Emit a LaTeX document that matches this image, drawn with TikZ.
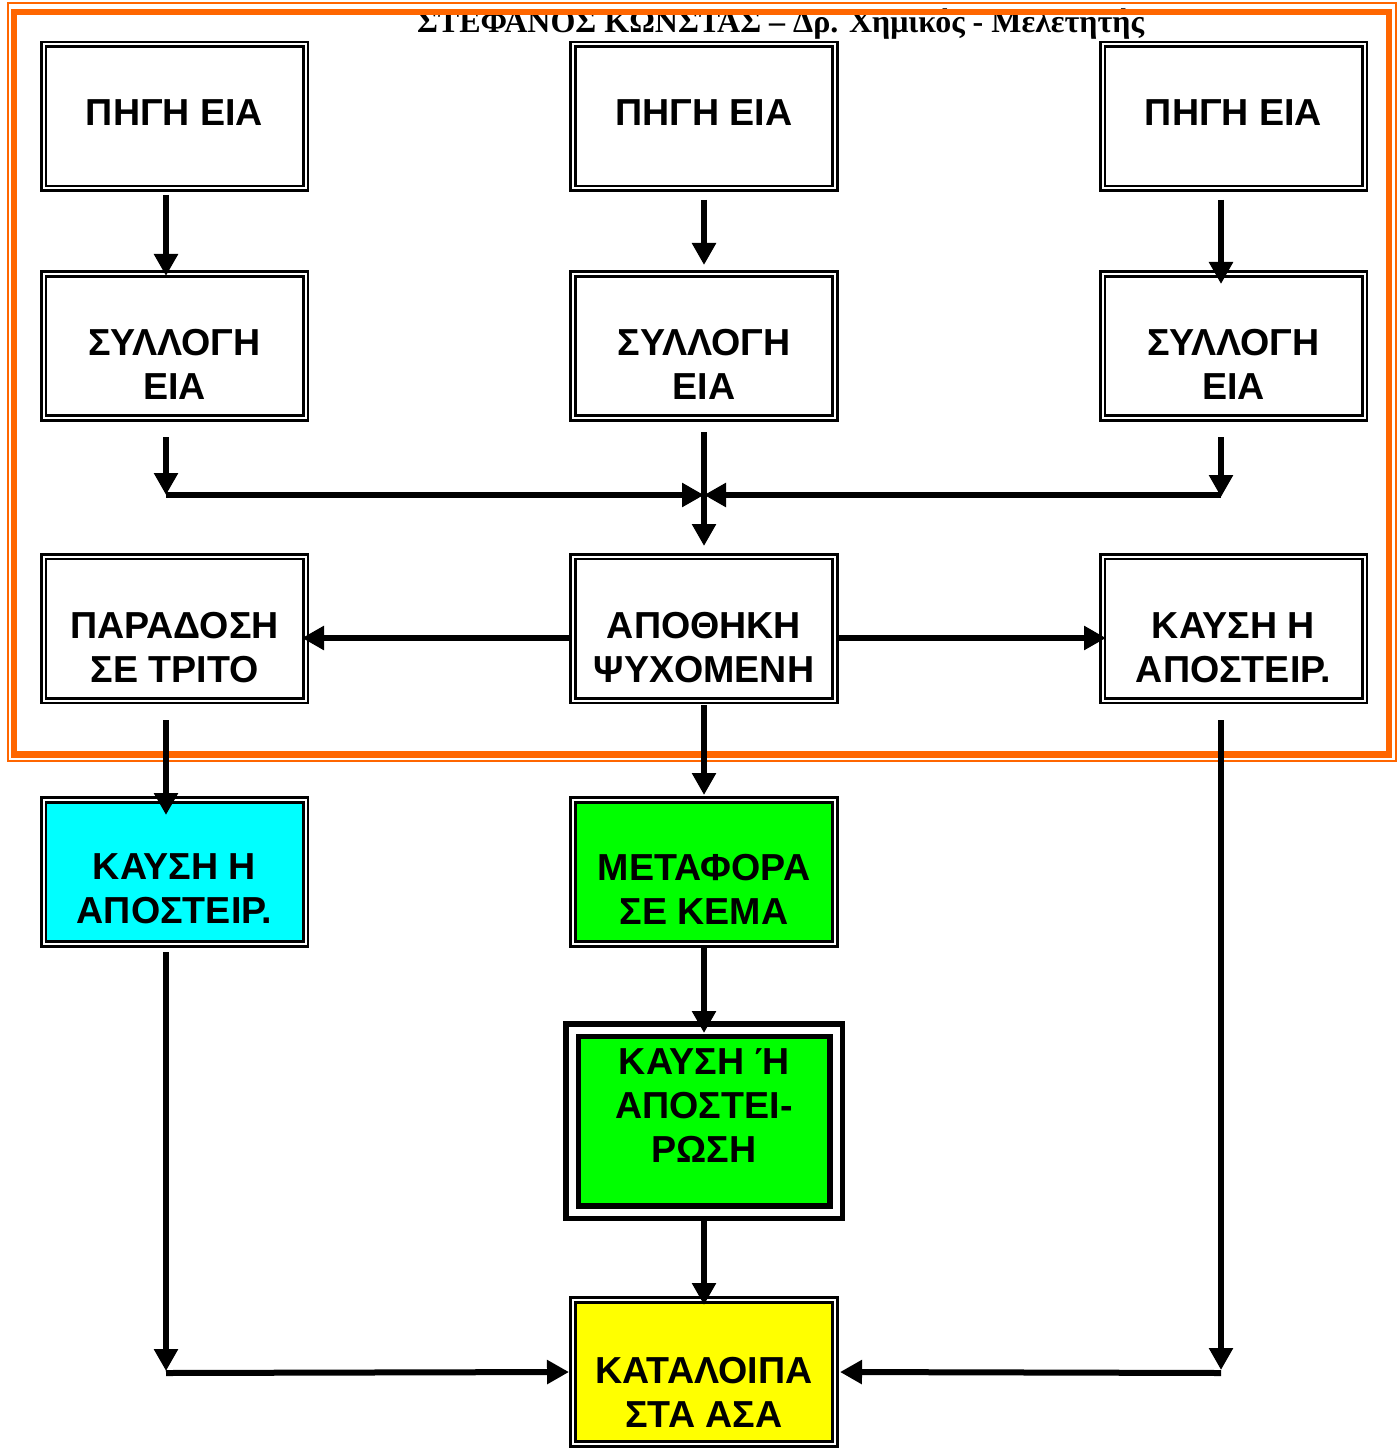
\documentclass[tikz,border=0pt]{standalone}
\usepackage{fontspec}
\setmainfont{Liberation Serif}
\newfontfamily\boxfont{Liberation Sans}
\usetikzlibrary{arrows.meta,calc}
\definecolor{orng}{RGB}{255,102,0}
\definecolor{cyanfill}{RGB}{0,255,255}
\definecolor{greenfill}{RGB}{0,255,0}
\definecolor{yellowfill}{RGB}{255,255,0}
\begin{document}
\begin{tikzpicture}[x=0.5pt,y=-0.5pt,
  box/.style={draw=black, double=white, line width=1.3pt, double distance=1pt,
    minimum width=131pt, minimum height=72pt, inner sep=0pt, outer sep=0pt},
  thickbox/.style={draw=black, double=white, line width=2.75pt, double distance=3.5pt,
    minimum width=132pt, minimum height=91pt, inner sep=0pt, outer sep=0pt, fill=greenfill},
  lbl/.style={font=\boxfont\bfseries\fontsize{18.8}{22}\selectfont, align=center, inner sep=0pt},
  arr/.style={line width=3pt, -{Triangle[width=11.5pt,length=11pt]}},
  ln/.style={line width=3pt}]
\useasboundingbox (0,0) rectangle (1398,1449);

% header
\node[font=\bfseries\fontsize{16}{19}\selectfont, anchor=base, inner sep=0pt] (hdr) at (780.5,33)
  {ΣΤΕΦΑΝΟΣ ΚΩΝΣΤΑΣ – Δρ. Χημικός - Μελετητής};

% orange frame
\draw[orng, line width=0.75pt] (8,3) rectangle (1396,761);
\draw[orng, line width=3.25pt] (14,12) rectangle (1389,754.5);

% boxes row 1
\node[box] (p1) at (174.5,116.5) {};
\node[box] (p2) at (704,116.5) {};
\node[box] (p3) at (1233.5,116.5) {};
% row 2
\node[box] (s1) at (174.5,346) {};
\node[box] (s2) at (704,346) {};
\node[box] (s3) at (1233.5,346) {};
% row 3
\node[box] (d) at (174.5,628.5) {};
\node[box] (a) at (704,628.5) {};
\node[box] (k) at (1233.5,628.5) {};
% row 4
\node[box, fill=cyanfill] (c) at (174.5,872) {};
\node[box, fill=greenfill] (m) at (704,872) {};
% thick framed box
\node[thickbox] (kk) at (704,1121) {};
% final box
\node[box, fill=yellowfill] (f) at (704,1372) {};

% labels
\node[lbl] (tp1) at (174.5,113) {ΠΗΓΗ ΕΙΑ};
\node[lbl] (tp2) at (704,113) {ΠΗΓΗ ΕΙΑ};
\node[lbl] (tp3) at (1233.5,113) {ΠΗΓΗ ΕΙΑ};
\node[lbl] (ts1) at (174.5,364) {ΣΥΛΛΟΓΗ\\ΕΙΑ};
\node[lbl] (ts2) at (704,364) {ΣΥΛΛΟΓΗ\\ΕΙΑ};
\node[lbl] (ts3) at (1233.5,364) {ΣΥΛΛΟΓΗ\\ΕΙΑ};
\node[lbl] (td) at (174.5,647.5) {ΠΑΡΑΔΟΣΗ\\ΣΕ ΤΡΙΤΟ};
\node[lbl] (ta) at (704,647.5) {ΑΠΟΘΗΚΗ\\ΨΥΧΟΜΕΝΗ};
\node[lbl] (tk) at (1233.5,647.5) {ΚΑΥΣΗ Η\\ΑΠΟΣΤΕΙΡ.};
\node[lbl] (tc) at (174.5,889) {ΚΑΥΣΗ Η\\ΑΠΟΣΤΕΙΡ.};
\node[lbl] (tm) at (704,889) {ΜΕΤΑΦΟΡΑ\\ΣΕ ΚΕΜΑ};
\node[lbl] (tkk) at (704,1106) {ΚΑΥΣΗ Ή\\ΑΠΟΣΤΕΙ-\\ΡΩΣΗ};
\node[lbl] (tf) at (704,1392) {ΚΑΤΑΛΟΙΠΑ\\ΣΤΑ ΑΣΑ};

% junction coordinates
\coordinate (jl) at ($(s1.south)+(-8.5,77)$);
\coordinate (jr) at ($(s3.south)+(-12.5,77)$);
\coordinate (jc) at ($(s2.south)+(0,77)$);
\coordinate (bl) at ($(c.south)+(-8.5,429)$);
\coordinate (br) at ($(k.south)+(-12.5,672.5)$);

% arrows row1 -> row2
\draw[arr] ($(p1.south)+(-8.5,6.5)$) -- ($(s1.north)+(-8.5,2)$);
\draw[arr] ($(p2.south)+(0,11.5)$) -- ($(s2.north)+(0,-9)$);
\draw[arr] ($(p3.south)+(-12.5,11.5)$) -- ($(s3.north)+(-12.5,10)$);
% row2 -> junction
\draw[arr] ($(s1.south)+(-8.5,19)$) -- (jl);
\draw[arr] ($(s3.south)+(-12.5,19)$) -- ($(jr)+(0,2)$);
\draw[arr] (jl) -- (jc);
\draw[arr] (jr) -- (jc);
\draw[arr] ($(s2.south)+(0,14)$) -- ($(a.north)+(0,-10.5)$);
% row3 sideways
\draw[arr] ($(a.west)+(-4,9.5)$) -- ($(d.east)+(-3.5,9.5)$);
\draw[arr] ($(a.east)+(4,9.5)$) -- ($(k.west)+(3.5,9.5)$);
% row3 -> row4
\draw[arr] ($(d.south)+(-8.5,19.5)$) -- ($(c.north)+(-8.5,15)$);
\draw[arr] ($(a.south)+(0,4.5)$) -- ($(m.north)+(0,-5)$);
\draw[arr] ($(k.south)+(-12.5,19.5)$) -- ($(br)+(0,-3)$);
% lower
\draw[arr] ($(c.south)+(-8.5,8)$) -- ($(bl)+(0,-2)$);
\draw[arr] (bl) -- ($(f.west)+(-4,0)$);
\draw[arr] (br) -- ($(f.east)+(5,0)$);
\draw[arr] ($(m.south)+(0,4)$) -- ($(kk.north)+(0,3)$);
\draw[arr] ($(kk.south)+(0,9)$) -- ($(f.north)+(0,5)$);
\end{tikzpicture}
\end{document}
